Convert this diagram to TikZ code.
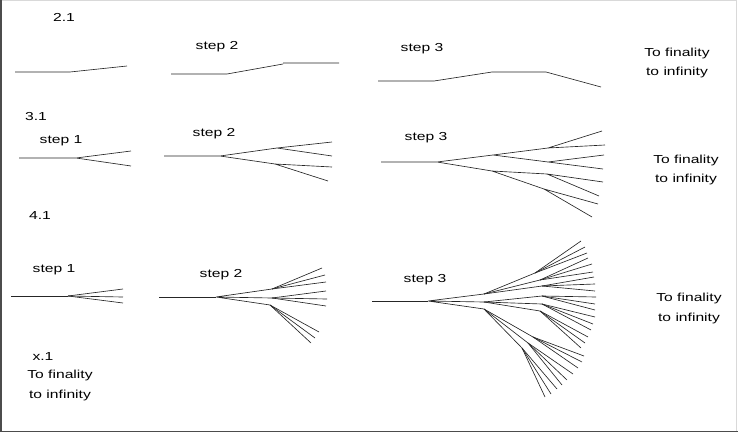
\documentclass[tikz,border=0pt]{standalone}
\usepackage{fontspec}
\setmainfont{Liberation Sans}

\tikzset{
  lbl/.style={anchor=base, inner sep=0pt, xscale=1.35, font=\fontsize{11.6}{19.5}\selectfont},
  lbl2/.style={lbl, align=center},
  twig/.style={line width=0.65pt, black!85, line join=round},
}

\begin{document}
\begin{tikzpicture}[x=1pt, y=-1pt]
    \useasboundingbox (0,0) rectangle (738,433);

    % Frame
    \draw[black!15] (0,0.5) -- (736.5,0.5) -- (736.5,431);
    \draw[black!70, line width=1.5pt] (1,0) -- (1,431.5) -- (738,431.5);

    % Row 2.1
    \node[lbl] (t21) at (64,22) {2.1};
    \draw[twig] (15,72) -- (70,72) -- (127,66);
    \node[lbl] (s22) at (217,50) {step 2};
    \draw[twig] (171,74) -- (227,74) -- (283,64) (283,63) -- (339,63);
    \node[lbl] (s23) at (422,51.5) {step 3};
    \draw[twig] (378,81) -- (434,81) -- (492,72) -- (546,72) -- (601,87);
    \node[lbl2] (f2) at (677,76) {To finality\\to infinity};

    % Row 3.1
    \node[lbl] (t31) at (36,120.5) {3.1};
    \node[lbl] (s31) at (61,143) {step 1};
    \coordinate (a0) at (76,158);
    \draw[twig] (19,158) -- (a0) -- (131,151) (a0) -- (131,166);

    \node[lbl] (s32) at (214,136.5) {step 2};
    \coordinate (b0) at (220,156);
    \coordinate (b1) at (277,148);
    \coordinate (b2) at (275,164);
    \draw[twig] (164,156) -- (b0) -- (b1) (b0) -- (b2);
    \draw[twig] (b1) -- (332,142) (b1) -- (332,156);
    \draw[twig] (b2) -- (332,167) (b2) -- (328,181);

    \node[lbl] (s33) at (426,140) {step 3};
    \coordinate (c0) at (437,162);
    \coordinate (c1) at (493,155);
    \coordinate (c2) at (492,171);
    \coordinate (c11) at (548,148);
    \coordinate (c12) at (548,162);
    \coordinate (c21) at (547,174);
    \coordinate (c22) at (544,189);
    \draw[twig] (381,162) -- (c0) -- (c1) (c0) -- (c2);
    \draw[twig] (c1) -- (c11) (c1) -- (c12) (c2) -- (c21) (c2) -- (c22);
    \draw[twig] (c11) -- (602,131) (c11) -- (605,145);
    \draw[twig] (c12) -- (604,155) (c12) -- (603,169);
    \draw[twig] (c21) -- (603,182) (c21) -- (599,196);
    \draw[twig] (c22) -- (598,204) (c22) -- (592,217);
    \node[lbl2] (f3) at (686,182.8) {To finality\\to infinity};

    % Row 4.1
    \node[lbl] (t41) at (40,219) {4.1};
    \node[lbl] (s41) at (54,272.5) {step 1};
    \coordinate (d0) at (68,296);
    \draw[twig] (11,296) -- (d0);
    \foreach \y in {289,297,303}
        \draw[twig] (d0) -- (123,\y);

    \node[lbl] (s42) at (221,277.5) {step 2};
    \coordinate (e0) at (216,297);
    \coordinate (e1) at (272,289);
    \coordinate (e2) at (272,298);
    \coordinate (e3) at (270,305);
    \draw[twig] (159,297) -- (e0);
    \draw[twig] (e0) -- (e1) (e0) -- (e2) (e0) -- (e3);
    \foreach \x/\y in {322/268, 325/275, 326/282}
        \draw[twig] (e1) -- (\x,\y);
    \foreach \x/\y in {326/291, 327/299, 326/306}
        \draw[twig] (e2) -- (\x,\y);
    \foreach \x/\y in {319/332, 315/338, 311/343}
        \draw[twig] (e3) -- (\x,\y);

    \node[lbl] (s43) at (425,282.5) {step 3};
    \coordinate (g0) at (428,301);
    \coordinate (g1) at (484,294);
    \coordinate (g2) at (484,302);
    \coordinate (g3) at (484,309);
    \draw[twig] (372,301) -- (g0);
    \draw[twig] (g0) -- (g1) (g0) -- (g2) (g0) -- (g3);
    \foreach \px/\py/\ends in {
        535/273/{581/241,585/247,587/253},
        540/280/{588/258,592/264,593/272},
        542/286/{594/277,595/284,595/291}} {
        \draw[twig] (g1) -- (\px,\py);
        \foreach \x/\y in \ends
            \draw[twig] (\px,\py) -- (\x,\y);
    }
    \foreach \px/\py/\ends in {
        542/296/{596/297,595/304,595/310},
        542/304/{595/317,593/324,591/330},
        540/311/{588/337,585/343,581/348}} {
        \draw[twig] (g2) -- (\px,\py);
        \foreach \x/\y in \ends
            \draw[twig] (\px,\py) -- (\x,\y);
    }
    \foreach \px/\py/\ends in {
        533/337/{584/356,582/362,578/368},
        528/343/{573/374,567/380,562/385},
        522/348/{557/389,551/394,545/397}} {
        \draw[twig] (g3) -- (\px,\py);
        \foreach \x/\y in \ends
            \draw[twig] (\px,\py) -- (\x,\y);
    }
    \node[lbl2] (f4) at (689,321) {To finality\\to infinity};

    % x.1
    \node[lbl] (tx1) at (43,360) {x.1};
    \node[lbl2] (fx) at (60,398) {To finality\\to infinity};

\end{tikzpicture}
\end{document}
